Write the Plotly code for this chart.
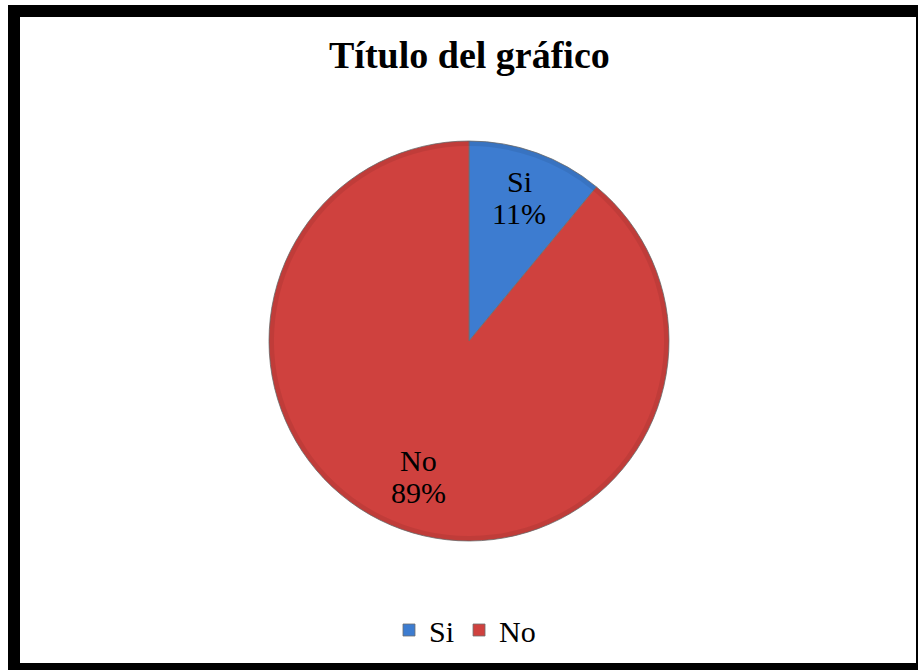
import math
import plotly.graph_objects as go

# Survey answers
labels = ["Si", "No"]
values = [11, 89]
colors = ["#3d7cd0", "#cf413e"]

W, H = 918, 670
serif = "Liberation Serif, 'Times New Roman', serif"

# pie geometry in pixels (centre and radius)
cx, cy, R = 469, 341, 200
pie_domain = dict(x=[(cx - R) / W, (cx + R) / W], y=[1 - (cy + R) / H, 1 - (cy - R) / H])

fig = go.Figure()
fig.add_trace(go.Pie(
    labels=labels,
    values=values,
    sort=False,
    direction="clockwise",
    rotation=0,
    textinfo="none",
    hoverinfo="label+percent",
    marker=dict(colors=colors, line=dict(color="rgba(110,110,110,0.8)", width=1)),
    domain=pie_domain,
    showlegend=True,
))

# faint darker rim giving the slices a bevelled edge
fig.add_trace(go.Pie(
    labels=labels,
    values=values,
    sort=False,
    direction="clockwise",
    rotation=0,
    hole=0.975,
    textinfo="none",
    hoverinfo="skip",
    marker=dict(colors=["rgba(0,0,0,0.07)", "rgba(0,0,0,0.07)"], line=dict(width=0)),
    domain=pie_domain,
    showlegend=False,
))

# data labels placed at each slice's mid-angle, name above percentage
total = sum(values)
acc = 0
annotations = []
for lab, v in zip(labels, values):
    mid = (acc + v / 2) / total * 2 * math.pi
    acc += v
    r = 0.74 * R
    px = cx + r * math.sin(mid)
    py = cy - r * math.cos(mid)
    pct = round(v / total * 100)
    for txt, dy in ((lab, -20), (f"{pct}%", 12)):
        annotations.append(dict(
            x=px / W, y=1 - (py + dy) / H, xref="paper", yref="paper",
            text=txt, showarrow=False,
            font=dict(family=serif, size=30, color="#000000"),
            xanchor="center", yanchor="middle", align="center",
        ))

# chart title
annotations.append(dict(
    x=469 / W, y=1 - 55 / H, xref="paper", yref="paper",
    text="<b>Título del gráfico</b>", showarrow=False,
    font=dict(family=serif, size=38, color="#000000"),
    xanchor="center", yanchor="middle",
))

# heavy black frame around the chart area
def prect(x0, y0, x1, y1, color):
    return dict(type="rect", xref="paper", yref="paper",
                x0=x0 / W, x1=x1 / W, y0=1 - y1 / H, y1=1 - y0 / H,
                fillcolor=color, line=dict(width=0), layer="below")

shapes = [
    prect(8, 5, 918, 670, "#000000"),
    prect(20, 17, 916, 663, "#ffffff"),
]

fig.update_layout(
    width=W, height=H,
    margin=dict(l=0, r=0, t=0, b=0),
    paper_bgcolor="#ffffff",
    plot_bgcolor="#ffffff",
    annotations=annotations,
    shapes=shapes,
    legend=dict(
        orientation="h",
        x=465 / W, xanchor="center",
        y=1 - 630 / H, yanchor="middle",
        font=dict(family=serif, size=30, color="#000000"),
        bgcolor="rgba(0,0,0,0)",
    ),
)

fig.write_html("out.html")
